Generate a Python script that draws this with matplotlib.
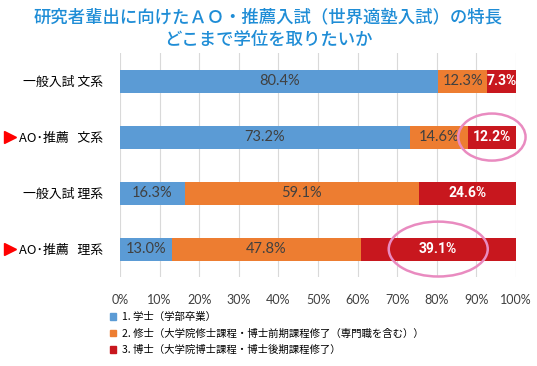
import matplotlib
matplotlib.use("Agg")
import matplotlib.pyplot as plt
from matplotlib.patches import Ellipse, Patch
from matplotlib.transforms import blended_transform_factory
import numpy as np

plt.rcParams['font.family'] = ['Noto Sans CJK JP', 'DejaVu Sans']

# data
rows = ["一般入試 文系", "AO･推薦   文系", "一般入試 理系", "AO･推薦   理系"]
is_ao = [False, True, False, True]
bachelor = [80.4, 73.2, 16.3, 13.0]
master = [12.3, 14.6, 59.1, 47.8]
doctor = [7.3, 12.2, 24.6, 39.1]
legend_labels = ["1. 学士（学部卒業）",
                 "2. 修士（大学院修士課程・博士前期課程修了（専門職を含む））",
                 "3. 博士（大学院博士課程・博士後期課程修了）"]
ticks = [0, 10, 20, 30, 40, 50, 60, 70, 80, 90, 100]
circled = [1, 3]  # rows whose doctor share is circled

colors = ["#5B9BD5", "#ED7D31", "#C8171E"]
title_color = "#1F8DD6"
num_font = ["Lato", "DejaVu Sans"]
bold_font = ["Liberation Sans Narrow", "DejaVu Sans Condensed", "Roboto", "DejaVu Sans"]

fig = plt.figure(figsize=(5.37, 3.66), dpi=100)
ax = fig.add_axes([0.2235, 0.243, 0.7375, 0.612])

y = np.arange(len(rows))
h = 0.41
b = np.array(bachelor)
m = np.array(master)
d = np.array(doctor)

ax.barh(y, b, height=h, color=colors[0], zorder=3)
ax.barh(y, m, left=b, height=h, color=colors[1], zorder=3)
ax.barh(y, d, left=b + m, height=h, color=colors[2], zorder=3)

for i in range(len(rows)):
    ax.text(b[i] / 2, y[i], f"{b[i]:.1f}%", ha="center", va="center",
            fontsize=10.5, color="#404040", family=num_font, zorder=4)
    ax.text(b[i] + m[i] / 2, y[i], f"{m[i]:.1f}%", ha="center", va="center",
            fontsize=10.5, color="#404040", family=num_font, zorder=4)
    ax.text(b[i] + m[i] + d[i] / 2, y[i], f"{d[i]:.1f}%", ha="center", va="center",
            fontsize=10, color="white", fontweight="bold", family=bold_font, zorder=4)

# pink circles around highlighted values
ell_w = {1: 17, 3: 25}
ell_h = {1: 0.84, 3: 0.98}
for i in circled:
    cx = b[i] + m[i] + d[i] / 2
    ax.add_patch(Ellipse((cx, y[i]), ell_w[i], ell_h[i], fill=False,
                         edgecolor="#E98BC0", lw=1.8, zorder=5, clip_on=False))

ax.set_xlim(0, 100)
ax.set_ylim(len(rows) - 0.5, -0.5)
ax.set_xticks(ticks)
ax.set_xticklabels([f"{t}%" for t in ticks], fontsize=9, color="#404040",
                   family=num_font)
ax.set_yticks(y)
ax.set_yticklabels(rows, fontsize=9.3, color="black")
ax.tick_params(axis="y", length=0, pad=12)
ax.tick_params(axis="x", length=0, pad=12)
ax.grid(axis="x", color="#D9D9D9", lw=0.8, zorder=0)
for s in ax.spines.values():
    s.set_visible(False)

# red markers for AO rows
tr = blended_transform_factory(fig.transFigure, ax.transData)
for i, flag in enumerate(is_ao):
    if flag:
        ax.plot(0.019, y[i], marker=">", color="#FF0000", markersize=8.5,
                transform=tr, clip_on=False)

fig.text(0.5, 0.953, "研究者輩出に向けたＡＯ・推薦入試（世界適塾入試）の特長",
         ha="center", va="center", fontsize=12.5, color=title_color, fontweight="medium")
fig.text(0.5, 0.89, "どこまで学位を取りたいか",
         ha="center", va="center", fontsize=12.5, color=title_color, fontweight="medium")

handles = [Patch(color=c) for c in colors]
fig.legend(handles, legend_labels, loc="upper left", bbox_to_anchor=(0.205, 0.147),
           frameon=False, fontsize=7.5, handlelength=0.6, handleheight=0.6,
           handletextpad=0.5, labelspacing=0.6, borderaxespad=0, borderpad=0)

fig.savefig("out.png", dpi=100)
